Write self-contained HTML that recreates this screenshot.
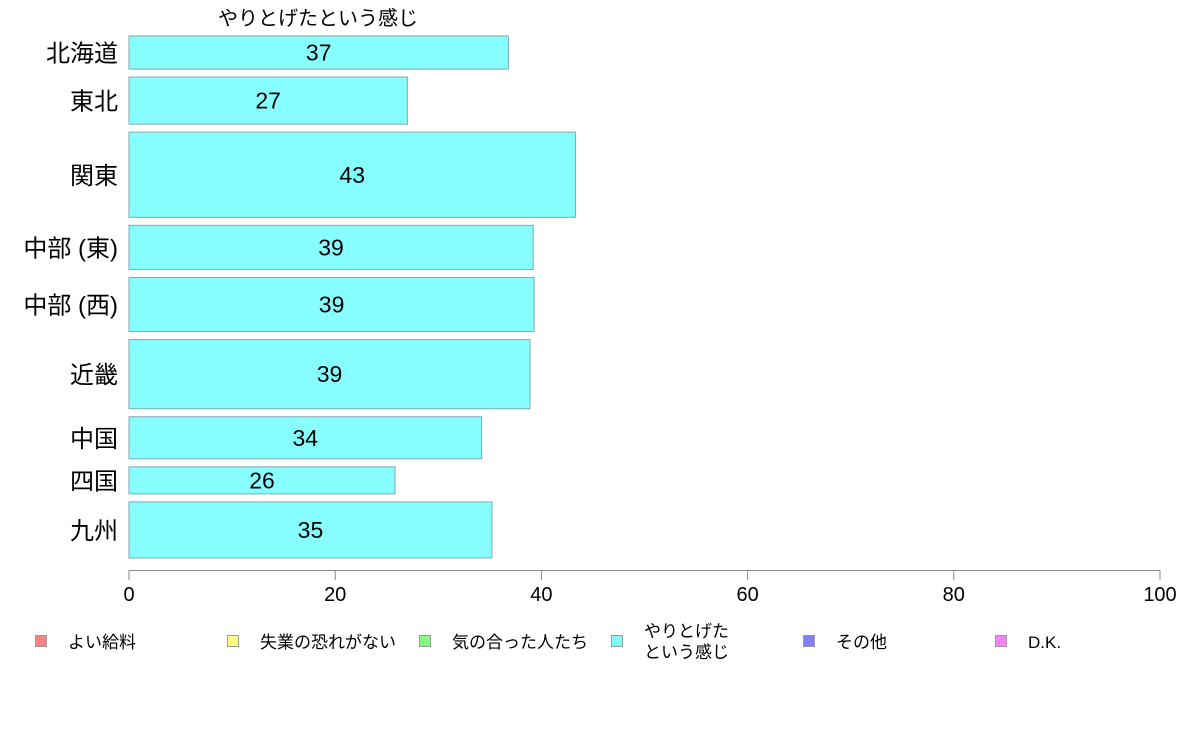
<!DOCTYPE html>
<html><head><meta charset="utf-8"><style>
body{margin:0;background:#fff}
svg text{font-family:"Liberation Sans","Noto Sans CJK JP",sans-serif}
</style></head><body>
<svg width="1188" height="736" xmlns="http://www.w3.org/2000/svg">
<g id="plot"></g>
</svg>
<script>
const categories=["北海道","東北","関東","中部 (東)","中部 (西)","近畿","中国","四国","九州"];
const values=[36.8,27.0,43.3,39.2,39.3,38.9,34.2,25.8,35.2];
const labels=["37","27","43","39","39","39","34","26","35"];
const weights=[33,47,85,44,54,69,42,27,56];
const ticks=[0,20,40,60,80,100];
const legendItems=["よい給料","失業の恐れがない","気の合った人たち","やりとげた\nという感じ","その他","D.K."];
const legendColors=["#ff8080","#ffff80","#80ff80","#80ffff","#8080ff","#ff80ff"];

const NS="http://www.w3.org/2000/svg";
const g=document.getElementById('plot');
const x0=129,x1=1160,yTop=36,gap=8,totalH=558-36;
const xs=v=>x0+(v/100)*(x1-x0);
const sumW=weights.reduce((a,b)=>a+b,0);
const hUnit=(totalH-gap*(weights.length-1))/sumW;
function mk(tag,attrs,txt){const e=document.createElementNS(NS,tag);for(const k in attrs)e.setAttribute(k,attrs[k]);if(txt!=null)e.textContent=txt;g.appendChild(e);return e;}

const t=mk('text',{x:318,y:25,'font-size':20,'text-anchor':'middle',fill:'#000'},"やりとげたという感じ");



let y=yTop;
categories.forEach((c,i)=>{
  const h=weights[i]*hUnit;
  const r=mk('rect',{x:x0,y:y,width:xs(values[i])-x0,height:h,fill:'#88ffff',stroke:'#7fa9b0','stroke-width':1});
  
  
  const vl=mk('text',{x:(x0+xs(values[i]))/2,y:y+h/2+8,'font-size':23,'text-anchor':'middle',fill:'#000'},labels[i]);
  
  
  const cl=mk('text',{x:118,y:y+h/2+9,'font-size':24,'text-anchor':'end',fill:'#000'},c);
  
  
  y+=h+gap;
});

const ax=mk('line',{x1:x0,x2:x1,y1:570.5,y2:570.5,stroke:'#888','stroke-width':1});


ticks.forEach(v=>{
  const tk=mk('line',{x1:xs(v),x2:xs(v),y1:570,y2:580,stroke:'#888','stroke-width':1});
  
  
  const tl=mk('text',{x:xs(v),y:601,'font-size':20,'text-anchor':'middle',fill:'#000'},String(v));
  
  
});

legendItems.forEach((s,i)=>{
  const lx=35+i*192;
  const sq=mk('rect',{x:lx+0.5,y:635.5,width:11,height:11,fill:legendColors[i],stroke:'#999','stroke-width':1});
  
  
  const lines=s.split("\n");
  lines.forEach((ln,j)=>{
    const ty=lines.length===1?648:637+j*21;
    const lt=mk('text',{x:lx+33,y:ty,'font-size':17,fill:'#000'},ln);
    
    
  });
});
</script>
</body></html>
